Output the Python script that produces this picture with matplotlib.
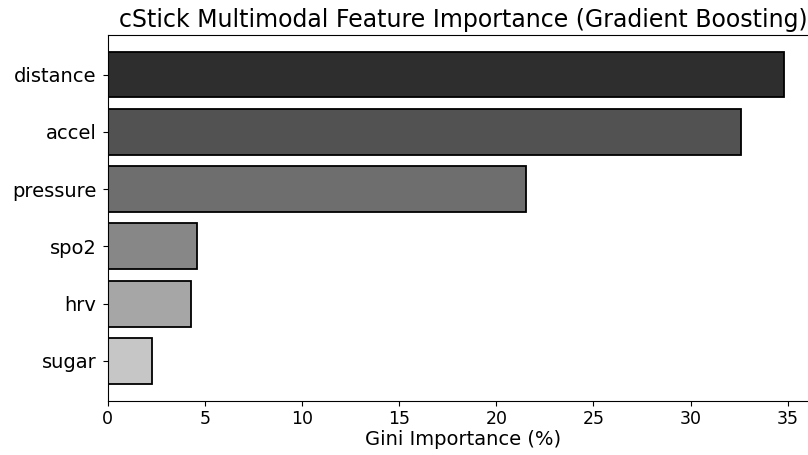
import numpy as np
import matplotlib
matplotlib.use('Agg')
from matplotlib import pyplot as plt

# Feature importances (%), top to bottom
features = ['distance', 'accel', 'pressure', 'spo2', 'hrv', 'sugar']
importance = [34.82, 32.6, 21.55, 4.6, 4.27, 2.26]
bar_colors = ['#2e2e2e', '#525252', '#6e6e6e', '#878787', '#a6a6a6', '#c6c6c6']

fig = plt.figure(figsize=(8.08, 4.55), dpi=100)
W, H = 808, 455
ax = fig.add_axes([107.7 / W, (H - 400.5) / H, (818 - 107.7) / W, (400.5 - 35) / H])

y = np.arange(len(features))[::-1]
ax.barh(y, importance, height=0.8, color=bar_colors, edgecolor='black', linewidth=1.3)
ax.set_yticks(y)
ax.set_yticklabels(features, fontsize=14)
ax.set_xlim(0, max(importance) * 1.05)
ax.set_xticks([0, 5, 10, 15, 20, 25, 30, 35])
ax.tick_params(axis='x', labelsize=12.5)
ax.tick_params(axis='y', pad=4.5)
ax.set_xlabel('Gini Importance (%)', fontsize=14, labelpad=1)
ax.set_title('cStick Multimodal Feature Importance (Gradient Boosting)', fontsize=17, pad=6)

fig.savefig('out.png', dpi=100)
